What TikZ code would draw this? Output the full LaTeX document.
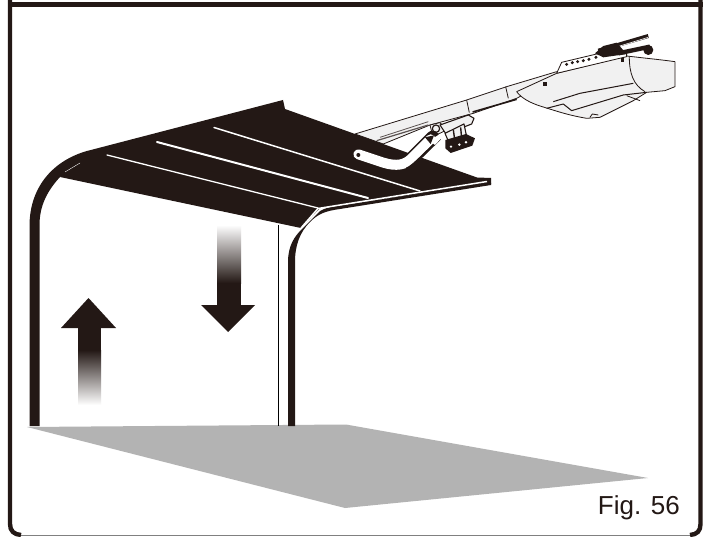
\documentclass[tikz,border=0pt]{standalone}
\usepackage{fontspec}
\setmainfont{Liberation Sans}
\definecolor{ink}{HTML}{231815}
\definecolor{floorgray}{HTML}{B3B3B3}
\definecolor{body}{HTML}{F1F1F1}
\tikzset{
  frameline/.style={draw=ink,line width=4.4pt},
  detail/.style={draw=ink,line width=.8pt,line join=round},
  fine/.style={draw=ink!75,line width=.45pt},
  whiteline/.style={draw=white,line cap=round},
}
\begin{document}
\begin{tikzpicture}[x=1pt,y=-1pt]
\useasboundingbox (0,0) rectangle (706,537);
\fill[white] (0,0) rectangle (706,537);
% frame
\draw[draw=gray,line width=1pt] (20,535.8) -- (692,535.8);
\draw[frameline] (10,0) -- (10,524) .. controls (10,531) and (14,534.5) .. (21,535);
\draw[frameline] (700.5,0) -- (700.5,524) .. controls (700.5,531) and (697,534.5) .. (690,535);
\draw[frameline] (8,4.5) -- (703,4.5);
% floor
\fill[floorgray] (27,427) -- (346,424.5) -- (648,478) -- (345,508) -- cycle;
% thin post
\draw[black,line width=1.3pt] (278.5,225) -- (278.5,426);
% opener, in zoomed coordinates
\begin{scope}[shift={(340,30)},x=0.3333pt,y=-0.3333pt]
  % rail
  \path[fill=body,detail] (45,312) -- (380,210) -- (500,170) -- (650,125) -- (660,135) -- (530,205) -- (400,250) -- (270,285) -- (130,342) -- cycle;
  \draw[detail] (380,210) -- (388,248);
  \draw[detail] (497,170) -- (505,205);
  \draw[detail,line width=1.6pt] (398,246) -- (530,208);
  \draw[fine,line width=1.2pt] (110,332) -- (265,285);
  \draw[fine,line width=.8pt] (120,322) -- (265,275);
  % head
  \path[fill=body,detail] (530,185) -- (650,130) -- (860,78) .. controls (920,85) and (970,90) .. (1005,95) -- (1005,170) -- (975,182) -- (920,187) -- (880,212) -- (780,262) -- (740,265) .. controls (680,255) and (640,240) .. (600,228) .. controls (570,218) and (545,205) .. cycle;
  \path[fill=white,detail] (650,130) -- (665,97) -- (770,72) -- (860,65) -- (860,80) -- cycle;
  \foreach \px/\py in {680/103,697/98,713/95,730/92,747/88,768/82}
    \fill[ink] (\px,\py) circle[radius=5];
  \draw[detail] (868,80) .. controls (868,130) and (880,165) .. (915,185);
  \draw[detail,line width=1pt] (640,215) -- (720,190) -- (880,160);
  \draw[detail,line width=1pt] (620,235) -- (670,222) -- (695,242) -- (850,195) -- (920,187);
  \draw[detail] (860,197) -- (900,212);
  \draw[detail] (750,262) -- (757,252) -- (775,255);
  \fill[ink] (608,155) rectangle (620,167);
  \fill[ink] (842,85) rectangle (852,97);
  \draw[ink,line width=4pt] (775,62) -- (925,18);
  \draw[white,line width=.6pt] (800,60) -- (925,22);
  \draw[ink,line width=4.4pt] (835,70) -- (930,50);
  \fill[ink] (765,70) -- (790,48) -- (830,38) -- (860,72) -- (790,82) -- cycle;
  \fill[ink] (925,60) circle[radius=15];
  % bracket
  \path[fill=body,detail] (270,285) -- (300,278) -- (320,300) -- (295,312) -- (275,305) -- cycle;
  \draw[detail,line width=1.2pt] (288,296) circle[radius=11];
  \path[fill=body,detail,line width=1.1pt] (300,285) -- (385,255) -- (402,265) -- (395,282) -- (318,312) -- cycle;
  \path[fill=body,detail,line width=1.1pt] (315,310) -- (372,282) -- (380,320) -- (330,345) -- cycle;
  \fill[ink] (316,330) -- (378,312) -- (405,325) -- (397,347) -- (332,369) -- (316,355) -- cycle;
  \fill[white] (333,350) circle[radius=4] (358,344) circle[radius=4] (378,337) circle[radius=4];
  \draw[ink,line width=1.4pt] (340,300) -- (345,335) (362,292) -- (365,325);
\end{scope}
% door panel
\fill[ink] (60,177) -- (75,160) -- (87,151) -- (283,100) -- (285,109) -- (477,177.5) -- (491,178) -- (491,184) -- (320,208) -- (301,228) -- cycle;
% tracks
\fill[ink] (29.5,426) -- (29.5,225) .. controls (30,185) and (55,160) .. (87,151) -- (90,160) -- (60,177) .. controls (48,190) and (39.5,205) .. (39.5,225) -- (39.5,426) -- cycle;
\fill[ink] (288,426) -- (288,262) .. controls (288,245) and (295,236) .. (302,229) -- (320,211) .. controls (325,208) and (330,207) .. (340,205.5) -- (491,183) -- (491,185) -- (340,209) .. controls (325,211) and (318,214) .. (310,222) .. controls (300,232) and (295,245) .. (295,262) -- (295,426) -- cycle;
% panel white lines
\draw[whiteline,line width=1.3pt] (107,155) -- (318,208);
\draw[whiteline,line width=2pt] (157,142) -- (368,198);
\draw[whiteline,line width=1.5pt] (214,127.5) -- (420,191);
\draw[whiteline,line width=1.5pt,line cap=butt] (301,228) -- (318,208.5) -- (487,181.5);
\draw[white,line width=.4pt] (65,172) -- (80,163);
% arm
\begin{scope}[shift={(340,30)},x=0.3333pt,y=-0.3333pt]
  \draw[ink,line width=13.2pt,line cap=round] (55,373) -- (130,398) .. controls (170,410) and (195,405) .. (215,385) -- (278,322);
  \draw[white,line width=10pt,line cap=round] (55,373) -- (130,398) .. controls (170,410) and (195,405) .. (215,385) -- (272,328);
  \draw[ink,line width=2.4pt] (200,416) .. controls (215,410) and (230,395) .. (300,326);
  \fill[white] (268,332) -- (300,312) -- (310,318) -- (285,345) -- cycle;
  \fill[ink] (255,322) -- (282,316) -- (272,342) -- cycle;
  \fill[ink] (55,375) circle[radius=6];
\end{scope}
% arrows
\shade[top color=ink,bottom color=white] (78,350) rectangle (101,405);
\fill[ink] (78,328) rectangle (101,350.5);
\fill[ink] (88.5,298) -- (116,328) -- (61,328) -- cycle;
\shade[top color=white,bottom color=ink] (217,225) rectangle (241,283);
\fill[ink] (217,282.5) rectangle (241,305);
\fill[ink] (228,332) -- (201,305) -- (255,305) -- cycle;
% label
\node[anchor=base east,inner sep=0pt,text=ink,font=\fontsize{26}{26}\selectfont] (figlabel) at (680,514) {Fig. 56};
\end{tikzpicture}
\end{document}
